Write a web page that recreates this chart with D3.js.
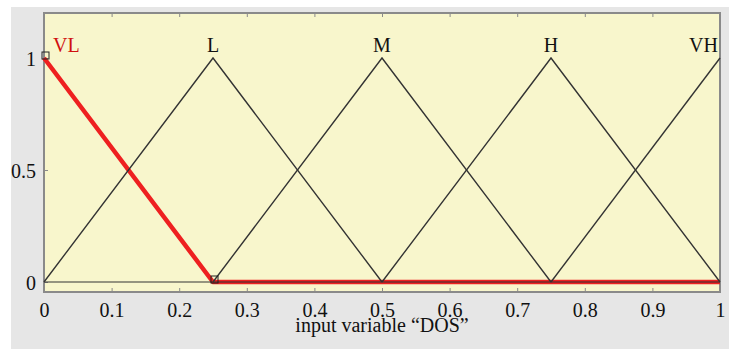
<!DOCTYPE html>
<html><head><meta charset="utf-8">
<script src="https://cdn.jsdelivr.net/npm/d3@7"></script>
<style>html,body{margin:0;padding:0;background:#fff;}svg{display:block;}</style>
</head><body>
<svg id="c" width="729" height="349"></svg>
<script>
const xTicks = [0,0.1,0.2,0.3,0.4,0.5,0.6,0.7,0.8,0.9,1];
const yTicks = [0,0.5,1];
const mfNames = ["VL","L","M","H","VH"];
const mfPeaks = [0,0.25,0.5,0.75,1];
const mfHalfWidth = [0.25,0.25,0.25,0.25,0.25];
const highlighted = "VL";
const xLabel = "input variable \u201cDOS\u201d";

(function(){
const svg = d3.select("#c");
const W=729,H=349;
const FONT="'Liberation Serif','Times New Roman',serif";
svg.append("rect").attr("x",11).attr("y",7).attr("width",W-11).attr("height",H-7).attr("fill","#e6e6e6");

const x=d3.scaleLinear().domain([0,1]).range([44,720]);
const y=d3.scaleLinear().domain([0,1]).range([282,58]);
const pTop=13,pBottom=292;

svg.append("rect").attr("x",x(0)).attr("y",pTop).attr("width",x(1)-x(0)).attr("height",pBottom-pTop)
  .attr("fill","#f8f6cc").attr("stroke","#8a8a8a").attr("stroke-width",2);

const axB=svg.append("g").attr("transform",`translate(0,${pBottom})`)
  .call(d3.axisBottom(x).tickValues(xTicks).tickSizeInner(-4).tickSizeOuter(0).tickPadding(14).tickFormat(d3.format("")));
axB.select(".domain").remove();
axB.selectAll("line").attr("stroke","#8a8a8a");
axB.selectAll("text").attr("y",25).attr("dy",0).style("font-family",FONT).style("font-size","20px").attr("fill","#111");

const axT=svg.append("g").attr("transform",`translate(0,${pTop})`)
  .call(d3.axisTop(x).tickValues(xTicks).tickSizeInner(-4).tickSizeOuter(0).tickFormat(""));
axT.select(".domain").remove();
axT.selectAll("line").attr("stroke","#8a8a8a");

const axL=svg.append("g").attr("transform",`translate(${x(0)},0)`)
  .call(d3.axisLeft(y).tickValues(yTicks).tickSizeInner(-4).tickSizeOuter(0).tickPadding(8).tickFormat(d3.format("")));
axL.select(".domain").remove();
axL.selectAll("line").attr("stroke","#8a8a8a");
axL.selectAll("text").attr("dy","0.35em").style("font-family",FONT).style("font-size","20px").attr("fill","#111");

const line=d3.line().x(d=>x(d[0])).y(d=>y(d[1]));
function pts(i){
  const p=mfPeaks[i],w=mfHalfWidth[i];
  const l=Math.max(0,p-w), r=Math.min(1,p+w);
  return [[l, 1-(p-l)/w],[p,1],[r, 1-(r-p)/w]];
}
function fullPts(i){
  const p=mfPeaks[i],w=mfHalfWidth[i];
  const a=[];
  if(p-w>0) a.push([0,0]);
  a.push(...pts(i));
  if(p+w<1) a.push([1,0]);
  return a;
}
const g=svg.append("g");
const hi=mfNames.indexOf(highlighted);
g.append("path").datum(fullPts(hi)).attr("d",line).attr("fill","none").attr("stroke","#ee2020").attr("stroke-width",4.5).attr("stroke-linejoin","round");
g.append("path").datum([[0,0],[1,0]]).attr("d",line).attr("fill","none").attr("stroke","#333").attr("stroke-width",1.2);
mfNames.forEach((n,i)=>{
  if(i===hi) return;
  g.append("path").datum(pts(i)).attr("d",line).attr("fill","none").attr("stroke","#333").attr("stroke-width",1.4);
});
const hp=pts(hi);
[hp[0],hp[hp.length-1]].forEach(d=>{
  g.append("rect").attr("x",x(d[0])-2).attr("y",y(d[1])-6).attr("width",7).attr("height",7).attr("fill","none").attr("stroke","#222").attr("stroke-width",1);
});
mfNames.forEach((n,i)=>{
  let cx=x(mfPeaks[i]), anchor="middle";
  if(mfPeaks[i]===0){cx=x(0)+9;anchor="start";}
  if(mfPeaks[i]===1){cx=x(1)-2;anchor="end";}
  svg.append("text").attr("x",cx).attr("y",y(1)-6).attr("text-anchor",anchor)
    .style("font-family",FONT).style("font-size","20px")
    .attr("fill",i===hi?"#d01010":"#111").text(n);
});
svg.append("text").attr("x",(x(0)+x(1))/2).attr("y",332).attr("text-anchor","middle")
  .style("font-family",FONT).style("font-size","20px").attr("fill","#111").text(xLabel);
})();
</script>
</body></html>
